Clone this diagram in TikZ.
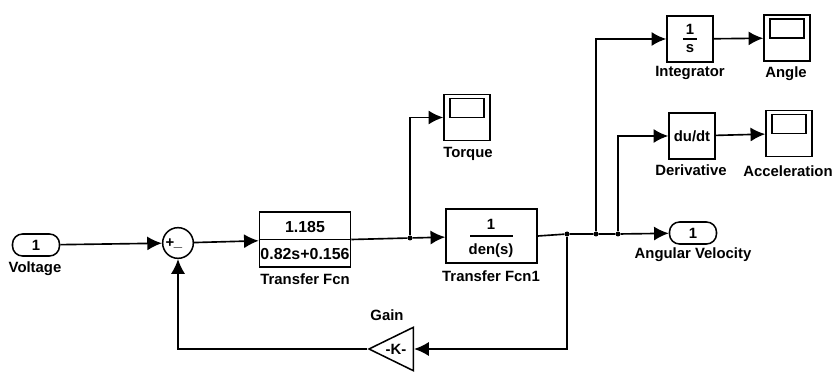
\documentclass[tikz,border=0pt]{standalone}
\usepackage{fontspec}
\setmainfont{Liberation Sans}
\usetikzlibrary{arrows.meta,positioning,shapes.geometric}
\tikzset{
 blk/.style={draw,line width=1.3pt,inner sep=0pt,minimum width=1.38cm,minimum height=1.38cm},
 port/.style={draw,line width=1.3pt,rounded corners=.3cm,inner sep=0pt,minimum width=1.41cm,minimum height=.66cm},
 screen/.style={draw,line width=1.3pt,inner sep=0pt,minimum width=1.02cm,minimum height=.57cm},
 wire/.style={line width=1.4pt,-{Latex[length=.44cm,width=.42cm]}},
 plainwire/.style={line width=1.4pt},
 dot/.style={circle,fill,inner sep=0pt,minimum size=.15cm},
 lab/.style={inner sep=0pt},
}
\begin{document}
\begin{tikzpicture}[x=.03cm,y=-.03cm,font=\fontsize{12.7}{14}\selectfont\bfseries]
 \useasboundingbox (0,0) rectangle (833,373);
 % source and sum
 \node[port] (voltage) at (36,245) {1};
 \node[lab] (voltagelab) at (35,269) {Voltage};
 \node[draw,circle,line width=1.3pt,minimum size=.92cm,inner sep=0pt] (sum) at (178,243) {};
 \node[lab] (plus) at (170,243) {+};
 \node[lab] (minus) at (178,247) {\_};
 % first transfer function
 \node[draw,line width=1.3pt,inner sep=0pt,minimum width=2.73cm,minimum height=1.65cm] (tf) at (305,239.5) {};
 \draw[plainwire] (tf.west)--(tf.east);
 \node[lab] (tfnum) at (305,227) {\fontsize{13.6}{14}\selectfont 1.185};
 \node[lab] (tfden) at (305,254) {\fontsize{13.6}{14}\selectfont 0.82s+0.156};
 \node[lab] (tflab) at (305,279) {Transfer Fcn};
 % second transfer function
 \node[draw,line width=1.3pt,inner sep=0pt,minimum width=2.73cm,minimum height=1.62cm] (tfa) at (491.5,236) {};
 \draw[plainwire] (470,236)--(513,236);
 \node[lab] (tfanum) at (491,224) {1};
 \node[lab] (tfaden) at (491,251) {den(s)};
 \node[lab] (tfalab) at (491,276) {Transfer Fcn1};
 % gain
 \node[draw,line width=1.3pt,isosceles triangle,isosceles triangle stretches,shape border rotate=180,inner sep=0pt,minimum width=1.3cm,minimum height=1.33cm,anchor=apex] (gain) at (367,349) {};
 \node[lab] (gaink) at (396,349) {-K-};
 \node[lab] (gainlab) at (387,315) {Gain};
 % integrator, derivative
 \node[blk] (int) at (690,39) {};
 \draw[plainwire] (683,39)--(697,39);
 \node[lab] (ints) at (690,29) {1};
 \node[lab] (intd) at (690,49) {s};
 \node[lab] (intlab) at (690,73) {Integrator};
 \node[blk] (der) at (692,136) {du/dt};
 \node[lab] (derlab) at (691,170) {Derivative};
 % scopes
 \foreach \name/\x/\y in {torque/467/117.5,angle/787/38,accel/789/133.5}{
  \node[blk] (\name) at (\x,\y) {};
  \node[screen] (\name screen) at (\x,\y-9.5) {};
 }
 \node[lab] (torquelab) at (468,154) {Torque};
 \node[lab] (anglelab) at (786,74) {Angle};
 \node[lab] (accellab) at (788,171) {Acceleration};
 % output
 \node[port] (omega) at (693,233) {1};
 \node[lab] (omegalab) at (693,255) {Angular Velocity};
 % junctions
 \node[dot] (ja) at (410,238) {};
 \node[dot] (jb) at (567,234) {};
 \node[dot] (jc) at (596,234) {};
 \node[dot] (jd) at (618,234) {};
 % connectors
 \draw[wire] (voltage)--(sum);
 \draw[wire] (sum)--(tf);
 \draw[plainwire] (tf.east)--(ja);
 \draw[wire] (ja)--(tfa);
 \draw[wire] (ja)|-(torque);
 \draw[plainwire] (tfa.east)--(jb)--(jc)--(jd);
 \draw[wire] (jd)--(omega);
 \draw[wire] (jc)|-(int);
 \draw[wire] (jd)|-(der);
 \draw[wire] (int)--(angle);
 \draw[wire] (der)--(accel);
 \draw[wire] (jb)|-(gain.east);
 \draw[wire] (gain.apex)-|(sum);
\end{tikzpicture}
\end{document}
